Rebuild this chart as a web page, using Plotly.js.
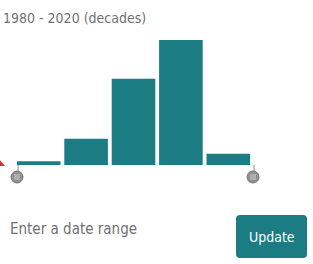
<!DOCTYPE html>
<html>
<head>
<meta charset="utf-8">
<script src="https://cdn.plot.ly/plotly-3.0.1.min.js"></script>
<style>
html,body{margin:0;padding:0;background:#fff;}
#chart{width:313px;height:264px;}
</style>
</head>
<body>
<div id="chart"></div>
<script>
var decades = ['1980', '1990', '2000', '2010', '2020'];
var counts = [3, 21, 69, 100, 9];
var titleText = '1980 - 2020 (decades)';
var promptText = 'Enter a date range';
var buttonText = 'Update';

var teal = '#1b7d83';
var FONT = '"DejaVu Sans Condensed", "Liberation Sans Narrow", Arial, sans-serif';

var W = 313, H = 264, L = 15, R = 61, T = 40, B = 99;
var pw = W - L - R, ph = H - T - B;
function px(x){ return (x - L) / pw; }
function py(y){ return (H - B - y) / ph; }

function roundRect(x0, y0, x1, y1, r){
  var rx = r / pw, ry = r / ph;
  var a = px(x0), b = px(x1), top = py(y0), bot = py(y1);
  return 'M' + (a+rx) + ',' + top + ' L' + (b-rx) + ',' + top +
    ' Q' + b + ',' + top + ' ' + b + ',' + (top-ry) +
    ' L' + b + ',' + (bot+ry) + ' Q' + b + ',' + bot + ' ' + (b-rx) + ',' + bot +
    ' L' + (a+rx) + ',' + bot + ' Q' + a + ',' + bot + ' ' + a + ',' + (bot+ry) +
    ' L' + a + ',' + (top-ry) + ' Q' + a + ',' + top + ' ' + (a+rx) + ',' + top + ' Z';
}

function handle(cx, cy){
  var r = 6;
  var s = [];
  s.push({type:'line', xref:'paper', yref:'paper', x0:px(cx+1), x1:px(cx+1), y0:py(165), y1:py(cy-r),
    line:{color:'#8c8c8c', width:1}});
  s.push({type:'circle', xref:'paper', yref:'paper', x0:px(cx-r), x1:px(cx+r), y0:py(cy-r), y1:py(cy+r),
    fillcolor:'#8e8e8e', line:{color:'#7a7a7a', width:1}});
  [-2, 0, 2].forEach(function(d){
    s.push({type:'line', xref:'paper', yref:'paper', x0:px(cx-3), x1:px(cx+3), y0:py(cy+d), y1:py(cy+d),
      line:{color:'#d0d0d0', width:1}});
  });
  return s;
}

var shapes = [];
shapes = shapes.concat(handle(17, 177), handle(253, 177));
shapes.push({type:'path', xref:'paper', yref:'paper',
  path:'M' + px(-2) + ',' + py(166) + ' L' + px(5) + ',' + py(166) + ' L' + px(-2) + ',' + py(158) + ' Z',
  fillcolor:'#d0312d', line:{width:0}});
shapes.push({type:'path', xref:'paper', yref:'paper', path:roundRect(236, 215, 307, 258, 4),
  fillcolor:teal, line:{width:0}});

var data = [{
  type:'bar',
  x: decades,
  y: counts,
  marker:{color:teal, line:{width:0}},
  hoverinfo:'none'
}];

var layout = {
  width:W, height:H,
  margin:{l:L, r:R, t:T, b:B, pad:0},
  paper_bgcolor:'#fff', plot_bgcolor:'#fff',
  bargap:0.08,
  showlegend:false,
  title:{text:titleText, x:3/W, xanchor:'left', xref:'container',
    y:1 - 18/H, yanchor:'middle', yref:'container',
    font:{family:FONT, size:14, color:'#707070'}},
  xaxis:{type:'category', range:[-0.5, 4.5], showticklabels:false, showgrid:false,
    zeroline:false, showline:false, ticks:'', fixedrange:true},
  yaxis:{range:[0, 100], showticklabels:false, showgrid:false, zeroline:false,
    showline:false, ticks:'', fixedrange:true},
  shapes: shapes,
  annotations:[
    {text:promptText, xref:'paper', yref:'paper', x:px(8), y:py(229), xanchor:'left', yanchor:'middle',
      showarrow:false, font:{family:FONT, size:15, color:'#707070'}},
    {text:buttonText, xref:'paper', yref:'paper', x:px(272), y:py(237), xanchor:'center', yanchor:'middle',
      showarrow:false, font:{family:FONT, size:14, color:'#fff'}}
  ]
};

Plotly.newPlot('chart', data, layout, {staticPlot:true, displayModeBar:false});
</script>
</body>
</html>
